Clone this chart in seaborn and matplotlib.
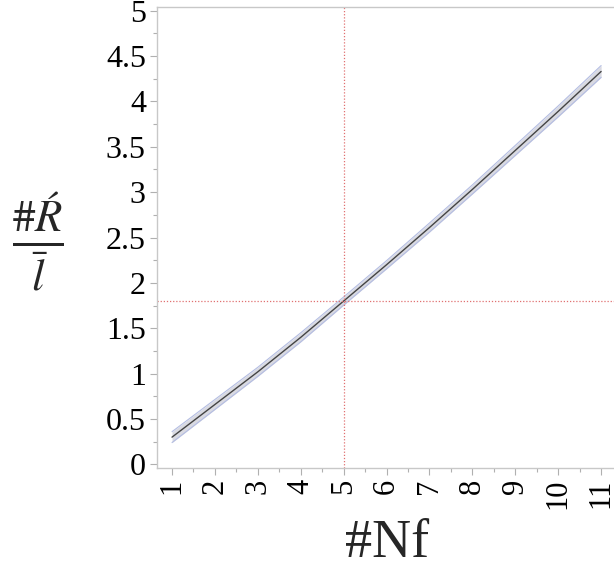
import matplotlib
matplotlib.use("Agg")
import matplotlib.pyplot as plt
import seaborn as sns
import pandas as pd
import numpy as np

# Predicted response vs number of fibres, with confidence band
nf = [1, 2, 3, 4, 5, 6, 7, 8, 9, 10, 11]
predicted = [0.30, 0.66, 1.02, 1.40, 1.80, 2.20, 2.61, 3.03, 3.46, 3.89, 4.33]
band_halfwidth = [0.06, 0.055, 0.05, 0.05, 0.045, 0.045, 0.05, 0.05, 0.055, 0.06, 0.065]

ref_x = 5
ref_y = 1.8

x_ticks = [1, 2, 3, 4, 5, 6, 7, 8, 9, 10, 11]
y_ticks = [0, 0.5, 1, 1.5, 2, 2.5, 3, 3.5, 4, 4.5, 5]
y_ticklabels = ["0", "0.5", "1", "1.5", "2", "2.5", "3", "3.5", "4", "4.5", "5"]

df = pd.DataFrame({"nf": nf, "pred": predicted, "hw": band_halfwidth})
df["lo"] = df["pred"] - df["hw"]
df["hi"] = df["pred"] + df["hw"]

sns.set_theme(style="white")
plt.rcParams["font.family"] = ["Liberation Serif", "DejaVu Serif"]
plt.rcParams["mathtext.fontset"] = "stix"

fig = plt.figure(figsize=(6.14, 5.71), dpi=100)
ax = fig.add_axes([0.2557, 0.1804, 0.7443, 0.8073])

ax.fill_between(df["nf"], df["lo"], df["hi"], color="#d9dae2", linewidth=0)
sns.lineplot(data=df, x="nf", y="lo", ax=ax, color="#b4bde2", linewidth=0.8)
sns.lineplot(data=df, x="nf", y="hi", ax=ax, color="#b4bde2", linewidth=0.8)
sns.lineplot(data=df, x="nf", y="pred", ax=ax, color="#444444", linewidth=1.0)

ax.axvline(ref_x, color="#e07070", linestyle=(0, (1, 1.5)), linewidth=0.9)
ax.axhline(ref_y, color="#e07070", linestyle=(0, (1, 1.5)), linewidth=0.9)

ax.set_xlim(0.65, 11.3)
ax.set_ylim(-0.04, 5.04)

ax.set_xticks(x_ticks)
ax.set_xticklabels([str(v) for v in x_ticks], rotation=90, va="top", ha="center")
ax.set_xticks(np.arange(1.5, 11.0, 1.0), minor=True)
ax.set_yticks(y_ticks)
ax.set_yticklabels(y_ticklabels)
ax.set_yticks(np.arange(0.25, 5.0, 0.5), minor=True)

ax.tick_params(axis="both", which="major", direction="out", length=5, width=0.8,
               color="#b0b0b0", labelsize=23, labelcolor="black", pad=3)
ax.tick_params(axis="x", which="major", labelsize=22)
ax.tick_params(axis="both", which="minor", direction="out", length=3, width=0.8,
               color="#b0b0b0")
ax.tick_params(axis="x", which="both", bottom=True)
ax.tick_params(axis="y", which="both", left=True)

for side in ["left", "bottom", "top"]:
    ax.spines[side].set_color("#c8c8c8")
    ax.spines[side].set_linewidth(1.0)
ax.spines["right"].set_visible(False)

ax.set_xlabel("")
ax.set_ylabel("")

fig.text(0.630, 0.047, "#Nf", fontsize=39, ha="center", va="center")
fig.text(0.062, 0.575, r"$\frac{\#\mathit{Ŕ}}{\bar{l}}$", fontsize=46,
         ha="center", va="center")

fig.savefig("out.png", dpi=100)
